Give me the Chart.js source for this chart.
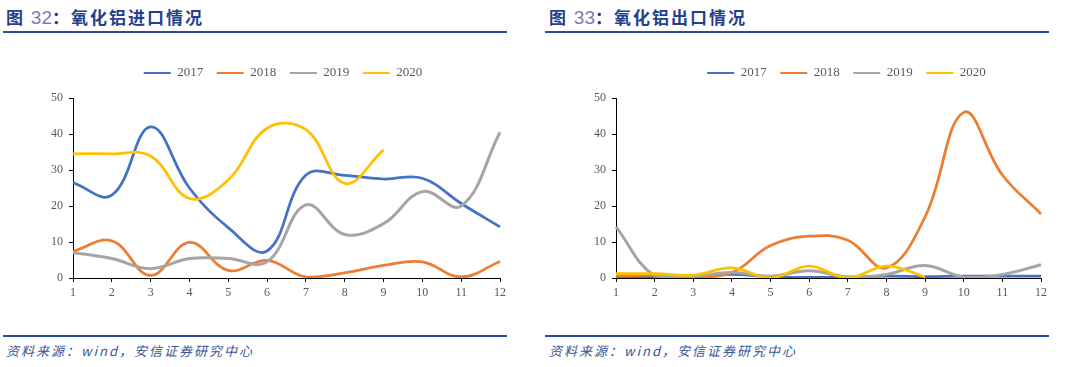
<!DOCTYPE html>
<html>
<head>
<meta charset="utf-8">
<script src="https://cdn.jsdelivr.net/npm/chart.js@4.4.0/dist/chart.umd.min.js"></script>
<style>
  html, body { margin: 0; padding: 0; background: #fff; width: 1080px; height: 367px; overflow: hidden; }
  body { position: relative; font-family: "Noto Sans CJK SC", sans-serif; }
  .title { position: absolute; top: 4px; font-size: 17px; font-weight: bold; color: #23408e; letter-spacing: 2px; white-space: nowrap; }
  .title .num { font-family: "Liberation Sans", sans-serif; font-weight: normal; color: #7b7bb8; font-size: 19px; letter-spacing: 0; }
  .rule { position: absolute; height: 2px; background: #2b4c9b; }
  .src { position: absolute; top: 341px; font-size: 13px; font-style: italic; color: #3a5597; letter-spacing: 2px; white-space: nowrap; }
  .box { position: absolute; top: 48px; height: 262px; }
</style>
</head>
<body>
<div class="title" style="left:6px">图 <span class="num">32</span>：氧化铝进口情况</div>
<div class="title" style="left:549px">图 <span class="num">33</span>：氧化铝出口情况</div>
<div class="rule" style="left:3px;width:504px;top:31px"></div>
<div class="rule" style="left:545px;width:504px;top:31px"></div>
<div class="rule" style="left:3px;width:504px;top:335px"></div>
<div class="rule" style="left:545px;width:504px;top:335px"></div>
<div class="src" style="left:6px">资料来源：wind，安信证券研究中心</div>
<div class="src" style="left:549px">资料来源：wind，安信证券研究中心</div>

<div class="box" style="left:20px;width:525px"><canvas id="imp"></canvas></div>
<div class="box" style="left:570px;width:552px"><canvas id="exp"></canvas></div>

<script>
const months = ['1', '2', '3', '4', '5', '6', '7', '8', '9', '10', '11', '12'];
const years = ['2017', '2018', '2019', '2020'];
const colors = ['#4472c4', '#ed7d31', '#a5a5a5', '#ffc000'];

// 氧化铝进口
const imp2017 = [26.5, 23, 42, 25, 14, 7.5, 28.6, 28.5, 27.5, 27.7, 20.7, 14.2];
const imp2018 = [7.4, 10.3, 0.7, 9.9, 2.1, 4.9, 0.3, 1.4, 3.5, 4.5, 0.3, 4.6];
const imp2019 = [7.1, 5.4, 2.6, 5.4, 5.4, 4.5, 20.3, 12.1, 15.1, 24, 20, 40.5];
const imp2020 = [34.5, 34.5, 33.9, 22.1, 27.2, 41.6, 41.2, 26.3, 35.6];

// 氧化铝出口
const exp2017 = [0.3, 0.2, 0.2, 1.0, 0.3, 0.2, 0.2, 0.5, 0.4, 0.5, 0.5, 0.5];
const exp2018 = [0.5, 0.8, 0.3, 1.5, 9, 11.6, 10.5, 2.8, 17, 46, 28.6, 17.8];
const exp2019 = [14.2, 0.6, 0.5, 1.5, 0.5, 2, 0.3, 1, 3.5, 0.3, 1, 3.7];
const exp2020 = [1.2, 1.2, 0.8, 2.8, 0, 3.3, 0, 3.3, 0.3];

const yTicks = [0, 10, 20, 30, 40, 50];

const tickFont = { family: '"Liberation Serif", serif', size: 12 };
const legendFont = { family: '"Liberation Serif", serif', size: 13 };

// extra room under the legend, and nudge it sideways like the original
function legendPlacer(shiftX) {
    return {
        id: 'legendPlacer',
        beforeInit(chart) {
            const fit = chart.legend.fit;
            chart.legend.fit = function () {
                fit.bind(chart.legend)();
                this.height += 9.5;
            };
        },
        afterLayout(chart) {
            chart.legend.left += shiftX;
            chart.legend.right += shiftX;
            chart.legend.top += 1;
        }
    };
}

function makeChart(id, series, yWidth, padRight, shiftX) {
    const datasets = series.map((data, i) => ({
        label: years[i],
        data: data,
        borderColor: colors[i],
        backgroundColor: colors[i],
        borderWidth: i == 2 ? 3 : 2.75,
        tension: 0.4,
        pointRadius: 0,
        fill: false,
        order: 4 - i
    }));
    return new Chart(document.getElementById(id), {
        type: 'line',
        data: { labels: months, datasets: datasets },
        plugins: [legendPlacer(shiftX)],
        options: {
            responsive: true,
            maintainAspectRatio: false,
            animation: false,
            layout: { padding: { left: 0, right: padRight, top: 4, bottom: 0 } },
            plugins: {
                tooltip: { enabled: false },
                legend: {
                    position: 'top',
                    labels: {
                        boxWidth: 27,
                        boxHeight: 2,
                        padding: 13.5,
                        color: '#595959',
                        font: legendFont,
                        sort: (a, b) => a.datasetIndex - b.datasetIndex,
                        generateLabels(chart) {
                            return Chart.defaults.plugins.legend.labels.generateLabels(chart)
                                .map(l => Object.assign(l, { lineWidth: 0 }));
                        }
                    }
                }
            },
            scales: {
                x: {
                    offset: false,
                    grid: { drawOnChartArea: false, drawTicks: true, tickLength: 4, color: '#000' },
                    border: { color: '#000', width: 1 },
                    ticks: { color: '#595959', font: tickFont, padding: 4, maxRotation: 0, autoSkip: false },
                    afterFit(scale) { scale.height = 32; }
                },
                y: {
                    min: 0,
                    max: 50,
                    afterBuildTicks(scale) { scale.ticks = yTicks.map(v => ({ value: v })); },
                    grid: { drawOnChartArea: false, drawTicks: true, tickLength: 4, color: '#000' },
                    border: { color: '#000', width: 1 },
                    ticks: { color: '#595959', font: tickFont, padding: 6 },
                    afterFit(scale) { scale.width = yWidth; }
                }
            }
        }
    });
}

makeChart('imp', [imp2017, imp2018, imp2019, imp2020], 53, 45, 23);
makeChart('exp', [exp2017, exp2018, exp2019, exp2020], 46, 81, 41);
</script>
</body>
</html>
